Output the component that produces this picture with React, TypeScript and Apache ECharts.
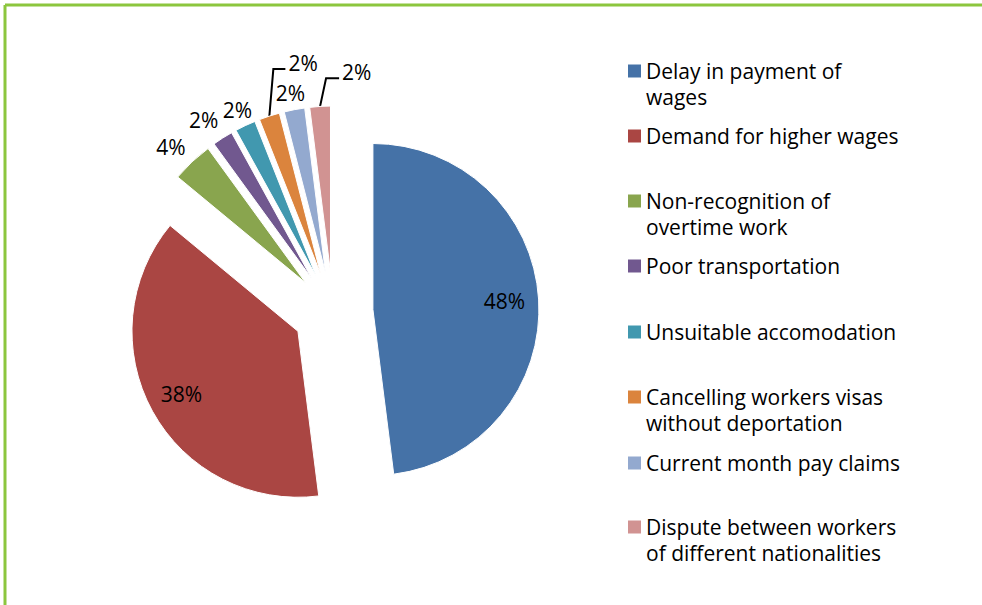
import React, { useEffect, useRef } from "react";
import * as echarts from "echarts";

// ---- data ----
const categories = [
  "Delay in payment of wages",
  "Demand for higher wages",
  "Non-recognition of overtime work",
  "Poor transportation",
  "Unsuitable accomodation",
  "Cancelling workers visas without deportation",
  "Current month pay claims",
  "Dispute between workers of different nationalities",
];
const legendLabels = [
  "Delay in payment of\nwages",
  "Demand for higher wages",
  "Non-recognition of\novertime work",
  "Poor transportation",
  "Unsuitable accomodation",
  "Cancelling workers visas\nwithout deportation",
  "Current month pay claims",
  "Dispute between workers\nof different nationalities",
];
const values = [48, 38, 4, 2, 2, 2, 2, 2];

// ---- styles / layout ----
const colors = ["#4572A7", "#AA4643", "#89A54E", "#71588F", "#4198AF", "#DB843D", "#93A9CF", "#D19392"];
const labelLen = [-36, -35, 21, 21, 17, 49.4, 17, 28.1];
const labelLen2 = [-24, -24, -13, -12, -19, -39.3, -19, -28.8];
const leaderBend: Record<number, number> = { 5: 4, 7: 6 };
const legendCenters = [71, 136, 201, 266, 332, 397, 463, 527];
const FONT = "'Open Sans', sans-serif";

export default function App() {
  const ref = useRef<HTMLDivElement>(null);
  useEffect(() => {
    if (!ref.current) return;
    const chart = echarts.init(ref.current, undefined, { renderer: "svg" });
    const legends = categories.map((name, i) => {
      const twoLine = legendLabels[i].includes("\n");
      return {
        data: [name],
        left: 628,
        top: legendCenters[i] - (twoLine ? 39 : 13),
        orient: "vertical",
        icon: "rect",
        itemWidth: 13,
        itemHeight: 13,
        padding: 0,
        selectedMode: false,
        itemStyle: { borderWidth: 0 },
        formatter: () => (twoLine ? "\n" + legendLabels[i] : legendLabels[i]),
        textStyle: {
          fontFamily: FONT,
          fontSize: 21,
          lineHeight: 26,
          color: "#000",
        },
      };
    });
    chart.setOption({
      animation: false,
      backgroundColor: "#fff",
      legend: legends,
      graphic: [
        { type: "line", shape: { x1: 5, y1: 5, x2: 982, y2: 5 }, style: { stroke: "#8CC63E", lineWidth: 3 } },
        { type: "line", shape: { x1: 5, y1: 5, x2: 5, y2: 605 }, style: { stroke: "#8CC63E", lineWidth: 3 } },
      ],
      series: [
        {
          type: "pie",
          center: [333, 312],
          radius: 166,
          startAngle: 90,
          clockwise: true,
          selectedMode: "multiple",
          selectedOffset: 40,
          avoidLabelOverlap: false,
          emphasis: { disabled: true },
          itemStyle: { borderColor: "#fff", borderWidth: 1 },
          label: {
            show: true,
            position: "outside",
            fontFamily: FONT,
            fontSize: 21,
            color: "#000",
            formatter: (p: any) => `${Math.round(p.percent)}%`,
          },
          labelLayout: (params: any) => {
            const bend = leaderBend[params.dataIndex];
            const pts = params.labelLinePoints;
            if (bend == null || !pts) return {};
            const p0 = pts[0];
            const yLine = pts[1][1];
            const xEnd = pts[2][0] - 8;
            return {
              align: "left",
              verticalAlign: "bottom",
              labelLinePoints: [
                [p0[0], p0[1]],
                [p0[0] + bend, yLine],
                [xEnd, yLine],
              ],
            };
          },
          data: values.map((v, i) => ({
            name: categories[i],
            value: v,
            selected: true,
            itemStyle: { color: colors[i] },
            label: leaderBend[i] != null ? { lineHeight: 12 } : {},
            labelLine: {
              show: leaderBend[i] != null,
              length: labelLen[i],
              length2: labelLen2[i],
              smooth: false,
              lineStyle: { color: "#000", width: 2 },
            },
          })),
        },
      ],
    });
    return () => chart.dispose();
  }, []);
  return <div ref={ref} style={{ position: "absolute", left: 0, top: 0, width: 982, height: 605 }} />;
}
